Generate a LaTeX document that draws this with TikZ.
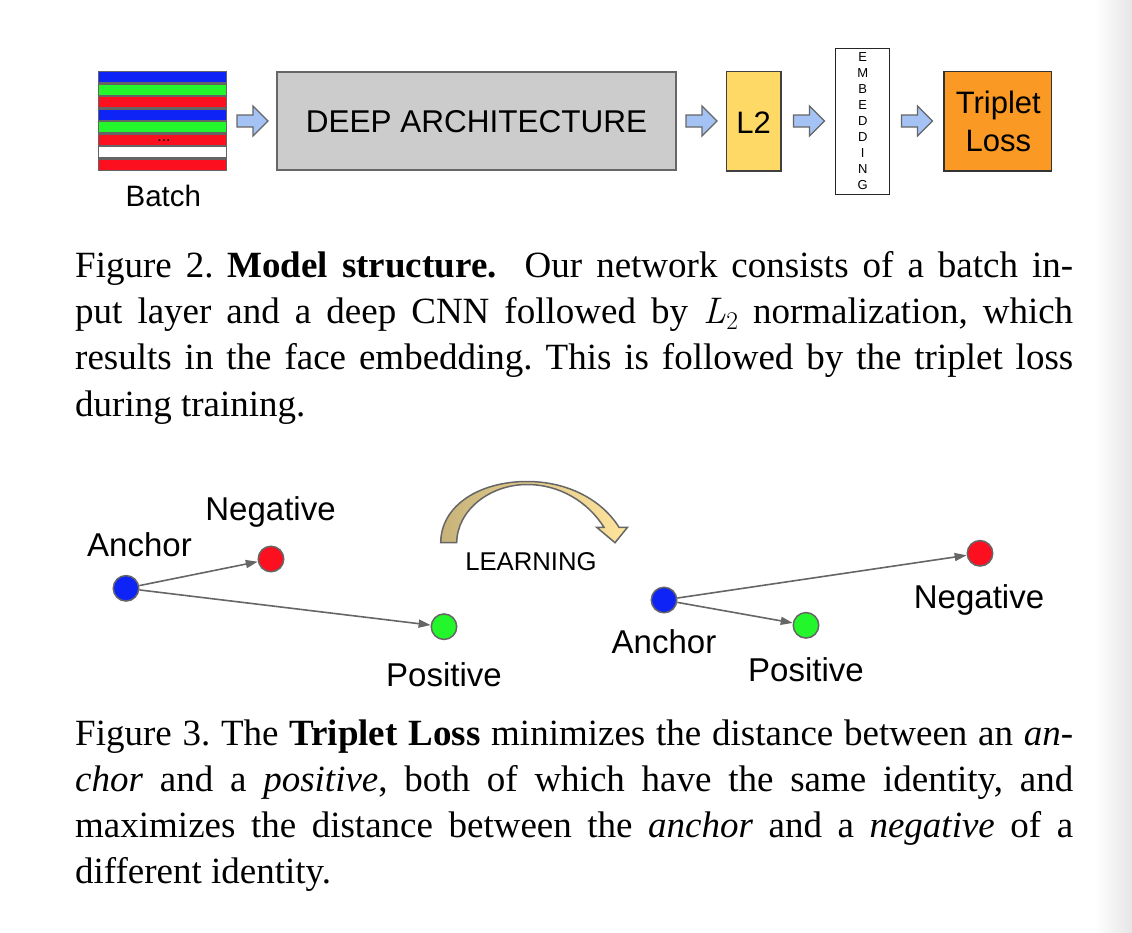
\documentclass[tikz,border=0pt]{standalone}
\usepackage{fontspec}
\setmainfont{Liberation Serif}
\newfontfamily\sansf{Liberation Sans}
\newfontfamily\lmfont{Latin Modern Roman}
\usetikzlibrary{arrows.meta}
\definecolor{linegray}{RGB}{102,102,102}
\definecolor{stackgray}{RGB}{100,100,100}
\definecolor{sblue}{RGB}{14,36,246}
\definecolor{sgreen}{RGB}{36,246,44}
\definecolor{sred}{RGB}{252,16,32}
\definecolor{arrowblue}{RGB}{164,194,244}
\definecolor{deepgray}{RGB}{204,204,204}
\definecolor{ltwo}{RGB}{255,217,102}
\definecolor{tripor}{RGB}{250,154,36}
\definecolor{tanc}{RGB}{199,179,122}
\definecolor{yelc}{RGB}{255,228,156}
\newcommand\capline[1]{\makebox[998pt][s]{#1}}
\newcommand\Ltwo{{\lmfont\itshape L}\kern0.5pt\raisebox{-5.5pt}{\lmfont\fontsize{25.5}{26}\selectfont 2}}
\frenchspacing
\tikzset{
  barrow/.style={fill=arrowblue, draw=linegray, line width=1.3pt, line join=miter},
  blk/.style={draw, line width=1.2pt, inner sep=0pt},
  lab/.style={font=\sansf\fontsize{33}{38}\selectfont, anchor=base, inner sep=0pt},
  ball/.style={circle, draw=linegray, line width=1.5pt, minimum size=25.5pt, inner sep=0pt},
  conn/.style={draw=linegray, line width=1.6pt, -{Triangle[length=12pt,width=8pt]}},
  captxt/.style={anchor=base west, inner sep=0pt, font=\frenchspacing\fontsize{37}{46.3}\selectfont},
  embl/.style={font=\sansf\fontsize{13}{14}\selectfont, inner sep=0pt},
}
\begin{document}
\begin{tikzpicture}[x=1pt,y=-1pt]
\useasboundingbox (0,0) rectangle (1132,932);
\fill[white] (0,0) rectangle (1132,932);
\shade[left color=white, right color=black!10] (1095,0) rectangle (1132,932);

% ---------- Figure 2 ----------
% batch stack
\fill[stackgray] (98,71) rectangle (227,171);
\foreach \c [count=\i from 0] in {sblue,sgreen,sred,sblue,sgreen,sred,white,sred}
  \fill[\c] (99.3,{72.3+12.53*\i}) rectangle (225.8,{82+12.53*\i});
\node[anchor=base, inner sep=0pt, font=\sansf\fontsize{16}{16}\selectfont] (dots) at (164,141.5) {...};
\node[anchor=base, inner sep=0pt, font=\sansf\fontsize{29.5}{34}\selectfont] (batch) at (163.3,206.5) {Batch};

% block arrows
\foreach \x in {237,686,793.5,901.5}
  \draw[barrow] (\x,115) -- ++(16,0) -- ++(0,-9) -- ++(15,15) -- ++(-15,15) -- ++(0,-9) -- ++(-16,0) -- cycle;

% boxes
\node[blk, draw=linegray, fill=deepgray, minimum width=399pt, minimum height=98pt] (deep) at (476.5,121) {};
\node[anchor=base, inner sep=0pt, font=\sansf\fontsize{31.5}{36}\selectfont] (deept) at (476.5,132.8) {DEEP ARCHITECTURE};
\node[blk, draw=black!75, fill=ltwo, minimum width=54.3pt, minimum height=99.3pt] (l2) at (753.8,121.3) {};
\node[anchor=base, inner sep=0pt, font=\sansf\fontsize{31}{36}\selectfont] (l2t) at (753.5,133.2) {L2};
\node[blk, draw=black!85, fill=white, minimum width=53.6pt, minimum height=146pt] (emb) at (862.5,121.3) {};
\foreach \l [count=\i from 0] in {E,M,B,E,D,D,I,N,G}
  \node[embl] (e\i) at (862.7,{57.3+16*\i}) {\l};
\node[blk, draw=black!80, fill=tripor, minimum width=107.7pt, minimum height=99.3pt] (trip) at (997.8,121.3) {};
\node[anchor=base, inner sep=0pt, font=\sansf\fontsize{31}{36}\selectfont] (trip1) at (998.3,113) {Triplet};
\node[anchor=base, inner sep=0pt, font=\sansf\fontsize{31}{36}\selectfont] (trip2) at (998.3,151.7) {Loss};

% caption 1
\node[captxt] (c1a) at (75,277.3) {\capline{Figure 2. \textbf{Model structure.}\ \ Our network consists of a batch in-}};
\node[captxt] (c1b) at (75,323.6) {\capline{put layer and a deep CNN followed by \Ltwo{} normalization, which}};
\node[captxt] (c1c) at (75,369.9) {\capline{results in the face embedding. This is followed by the triplet loss}};
\node[captxt] (c1d) at (75,416.2) {during training.};

% ---------- Figure 3 ----------
% learning arrow
\path[left color=tanc, right color=yelc, draw=linegray, line width=1.5pt, line join=miter]
  (440.7,542.7) .. controls (441,505) and (480,481.5) .. (527,481.5)
  .. controls (568,481.5) and (602,500) .. (619,527.3)
  -- (627.5,527.3) -- (615,542.7) -- (596.7,527.3) -- (604,527.3)
  .. controls (588,502) and (560,484.5) .. (527,484.5)
  .. controls (490,484.5) and (457,510) .. (456.7,542.7) -- cycle;
\node[anchor=base, inner sep=0pt, font=\sansf\fontsize{25.7}{30}\selectfont] (learn) at (531,570) {LEARNING};

% left configuration
\node[ball, fill=sblue] (a1) at (126,588.3) {};
\node[ball, fill=sred] (n1) at (271,559) {};
\node[ball, fill=sgreen] (p1) at (444,626.7) {};
\node[lab] (a1l) at (139.5,556.7) {Anchor};
\node[lab] (n1l) at (270.5,520) {Negative};
\node[lab] (p1l) at (444,686.7) {Positive};
\draw[conn] (a1) -- (n1);
\draw[conn] (a1) -- (p1);

% right configuration
\node[ball, fill=sblue] (a2) at (664,600) {};
\node[ball, fill=sgreen] (p2) at (806,625.3) {};
\node[ball, fill=sred] (n2) at (980,553.3) {};
\node[lab] (a2l) at (664,653.3) {Anchor};
\node[lab] (p2l) at (806,681.7) {Positive};
\node[lab] (n2l) at (979,608.3) {Negative};
\draw[conn] (a2) -- (p2);
\draw[conn] (a2) -- (n2);

% caption 2
\node[captxt] (c2a) at (75,745) {\capline{Figure 3. The \textbf{Triplet Loss} minimizes the distance between an \textit{an-}}};
\node[captxt] (c2b) at (75,791.2) {\capline{\textit{chor} and a \textit{positive}, both of which have the same identity, and}};
\node[captxt] (c2c) at (75,837.4) {\capline{maximizes the distance between the \textit{anchor} and a \textit{negative} of a}};
\node[captxt] (c2d) at (75,883.6) {different identity.};
\end{tikzpicture}
\end{document}
